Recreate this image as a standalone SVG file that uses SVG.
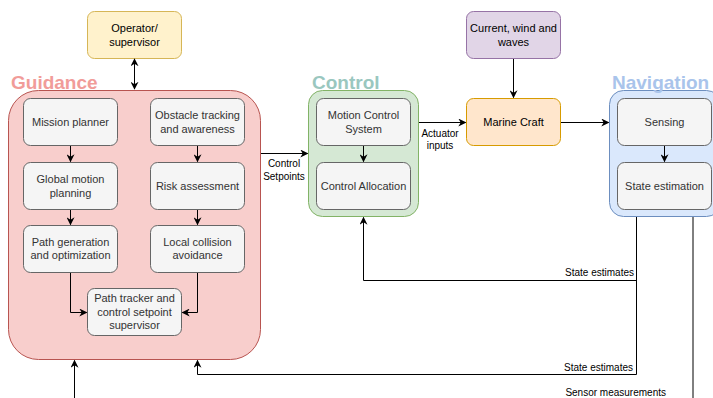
<svg xmlns="http://www.w3.org/2000/svg" width="713" height="398" viewBox="0 0 713 398">
  <defs>
    <marker id="arr" viewBox="0 0 10 10" refX="9" refY="5" markerWidth="8" markerHeight="8" markerUnits="userSpaceOnUse" orient="auto-start-reverse">
      <path d="M0,0 L10,5 L0,10 L3,5 Z" fill="#000"/>
    </marker>
    <style>
      text { font-family: "Liberation Sans", Arial, Helvetica, sans-serif; }
      .node { font-size: 11px; fill: #333; text-anchor: middle; }
      .dark { font-size: 11px; fill: #000; text-anchor: middle; }
      .inner { fill: #f5f5f5; stroke: #666; stroke-width: 1; }
      .title { font-size: 19px; font-weight: bold; }
      .lbl { font-size: 10px; fill: #000; }
      .edge { fill: none; stroke: #000; stroke-width: 1; }
    </style>
  </defs>
  <rect width="713" height="398" fill="#fff"/>

  <!-- Operator / supervisor -->
  <g id="operator">
    <rect x="87.5" y="11.5" width="94" height="47" rx="7" fill="#fff2cc" stroke="#d6b656"/>
    <text class="dark" x="134.5" y="32">Operator/</text>
    <text class="dark" x="134.5" y="46">supervisor</text>
  </g>

  <!-- Guidance block -->
  <g id="guidance">
    <rect x="8.5" y="90.5" width="252" height="269" rx="30" fill="#f8cecc" stroke="#b85450"/>
    <text class="title" x="11" y="89" fill="#f19c99">Guidance</text>
  </g>
  <g id="mission-planner">
    <rect class="inner" x="23.5" y="98.5" width="94" height="47" rx="7"/>
    <text class="node" x="70.5" y="126">Mission planner</text>
  </g>
  <g id="obstacle-tracking">
    <rect class="inner" x="150.5" y="98.5" width="94" height="47" rx="7"/>
    <text class="node" x="197.5" y="119">Obstacle tracking</text>
    <text class="node" x="197.5" y="133">and awareness</text>
  </g>
  <g id="global-motion">
    <rect class="inner" x="23.5" y="162.5" width="94" height="47" rx="7"/>
    <text class="node" x="70.5" y="183">Global motion</text>
    <text class="node" x="70.5" y="197">planning</text>
  </g>
  <g id="risk-assessment">
    <rect class="inner" x="150.5" y="162.5" width="94" height="47" rx="7"/>
    <text class="node" x="197.5" y="189.5">Risk assessment</text>
  </g>
  <g id="path-generation">
    <rect class="inner" x="23.5" y="225.5" width="94" height="47" rx="7"/>
    <text class="node" x="70.5" y="246">Path generation</text>
    <text class="node" x="70.5" y="259">and optimization</text>
  </g>
  <g id="local-collision">
    <rect class="inner" x="150.5" y="225.5" width="94" height="47" rx="7"/>
    <text class="node" x="197.5" y="246">Local collision</text>
    <text class="node" x="197.5" y="259">avoidance</text>
  </g>
  <g id="path-tracker">
    <rect class="inner" x="87.5" y="288.5" width="94" height="47" rx="7"/>
    <text class="node" x="134.5" y="302">Path tracker and</text>
    <text class="node" x="134.5" y="315.5">control setpoint</text>
    <text class="node" x="134.5" y="329">supervisor</text>
  </g>

  <!-- Control block -->
  <g id="control">
    <rect x="308.5" y="90.5" width="110" height="126" rx="14" fill="#d5e8d4" stroke="#82b366"/>
    <text class="title" x="312" y="89" fill="#9ac7bf">Control</text>
  </g>
  <g id="motion-control">
    <rect class="inner" x="316.5" y="98.5" width="94" height="47" rx="7"/>
    <text class="node" x="363.5" y="119">Motion Control</text>
    <text class="node" x="363.5" y="133">System</text>
  </g>
  <g id="control-allocation">
    <rect class="inner" x="316.5" y="162.5" width="94" height="47" rx="7"/>
    <text class="node" x="363.5" y="189.5">Control Allocation</text>
  </g>

  <!-- Environment and vessel -->
  <g id="environment">
    <rect x="466.5" y="11.5" width="94" height="47" rx="7" fill="#e1d5e7" stroke="#9673a6"/>
    <text class="dark" x="513.5" y="32">Current, wind and</text>
    <text class="dark" x="513.5" y="46">waves</text>
  </g>
  <g id="marine-craft">
    <rect x="466.5" y="98.5" width="94" height="47" rx="7" fill="#ffe6cc" stroke="#d79b00"/>
    <text class="dark" x="513.5" y="126">Marine Craft</text>
  </g>

  <!-- Navigation block -->
  <g id="navigation">
    <rect x="609.5" y="90.5" width="111" height="126" rx="14" fill="#dae8fc" stroke="#6c8ebf"/>
    <text class="title" x="612" y="89" fill="#a9c4eb">Navigation</text>
  </g>
  <g id="sensing">
    <rect class="inner" x="617.5" y="98.5" width="94" height="47" rx="7"/>
    <text class="node" x="664.5" y="126">Sensing</text>
  </g>
  <g id="state-estimation">
    <rect class="inner" x="617.5" y="162.5" width="94" height="47" rx="7"/>
    <text class="node" x="664.5" y="189.5">State estimation</text>
  </g>

  <!-- Connectors -->
  <g id="connectors">
    <path class="edge" d="M134.5,59 V89" marker-start="url(#arr)" marker-end="url(#arr)"/>
    <path class="edge" d="M70.5,146 V161.5" marker-end="url(#arr)"/>
    <path class="edge" d="M197.5,146 V161.5" marker-end="url(#arr)"/>
    <path class="edge" d="M70.5,210 V224.5" marker-end="url(#arr)"/>
    <path class="edge" d="M197.5,210 V224.5" marker-end="url(#arr)"/>
    <path class="edge" d="M70.5,273 V312.5 H86.5" marker-end="url(#arr)"/>
    <path class="edge" d="M197.5,273 V312.5 H182.5" marker-end="url(#arr)"/>
    <path class="edge" d="M261,153.5 H307.5" marker-end="url(#arr)"/>
    <path class="edge" d="M363.5,146 V161.5" marker-end="url(#arr)"/>
    <path class="edge" d="M419,122.5 H465.5" marker-end="url(#arr)"/>
    <path class="edge" d="M513.5,59 V97.5" marker-end="url(#arr)"/>
    <path class="edge" d="M561,122.5 H608.5" marker-end="url(#arr)"/>
    <path class="edge" d="M664.5,146 V161.5" marker-end="url(#arr)"/>
    <path class="edge" d="M636.5,217 V280.5 H363.5 V217.5" marker-end="url(#arr)"/>
    <path class="edge" d="M636.5,280 V374.5 H197.5 V360.5" marker-end="url(#arr)"/>
    <path class="edge" d="M693,217 V398"/>
    <path class="edge" d="M74.5,398 V360.5" marker-end="url(#arr)"/>
  </g>

  <!-- Connector labels -->
  <g id="labels">
    <text class="lbl" x="284" y="167" text-anchor="middle">Control</text>
    <text class="lbl" x="284" y="179.5" text-anchor="middle">Setpoints</text>
    <text class="lbl" x="440" y="136.5" text-anchor="middle">Actuator</text>
    <text class="lbl" x="440" y="149" text-anchor="middle">inputs</text>
    <text class="lbl" x="634" y="276" text-anchor="end">State estimates</text>
    <text class="lbl" x="633" y="371" text-anchor="end">State estimates</text>
    <text class="lbl" x="666" y="396" text-anchor="end">Sensor measurements</text>
  </g>
</svg>
